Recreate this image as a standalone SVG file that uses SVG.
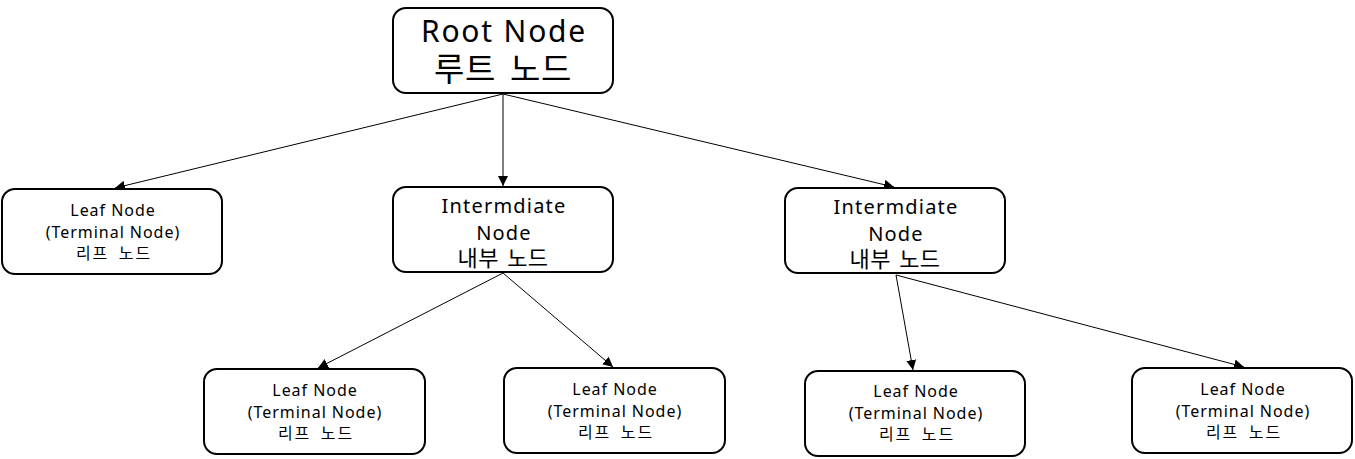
<svg xmlns="http://www.w3.org/2000/svg" width="1355" height="459" viewBox="0 0 1355 459">
<style>
.box{fill:#fff;stroke:#000;stroke-width:2}
.t{font-family:"Noto Sans","Noto Sans CJK KR",sans-serif;fill:#000;text-anchor:middle;letter-spacing:0.06em}
.k{font-family:"Noto Sans CJK KR",sans-serif;word-spacing:3px;letter-spacing:0.02em}
.s{font-size:16px}
.ks{font-size:16px;letter-spacing:0.12em;word-spacing:4px}
.m{font-size:20px}
.km{font-size:22px}
.l{font-size:30px}
.kl{font-size:33px;word-spacing:6px}
.c{stroke:#000;stroke-width:1;fill:none;marker-end:url(#ah)}
</style>
<defs>
<marker id="ah" viewBox="0 0 10 10" refX="10" refY="5" markerWidth="10" markerHeight="10" markerUnits="userSpaceOnUse" orient="auto">
<path d="M0,0 L10,5 L0,10 z" fill="#000"/>
</marker>
</defs>
<g id="connectors">
<line class="c" x1="503" y1="94" x2="115" y2="188"/>
<line class="c" x1="503" y1="94" x2="503" y2="186"/>
<line class="c" x1="503" y1="94" x2="894" y2="187"/>
<line class="c" x1="503" y1="273" x2="318" y2="368"/>
<line class="c" x1="503" y1="273" x2="613" y2="367"/>
<line class="c" x1="896" y1="275" x2="913" y2="370"/>
<line class="c" x1="896" y1="275" x2="1244" y2="367"/>
</g>
<g id="root">
<rect class="box" x="393" y="8" width="220" height="85" rx="13"/>
<text class="t l" x="504" y="42">Root Node</text>
<text class="t k kl" x="503" y="81">루트 노드</text>
</g>
<g id="leaf1">
<rect class="box" x="2" y="189" width="220" height="85" rx="13"/>
<text class="t s" x="113" y="216">Leaf Node</text>
<text class="t s" x="113" y="238">(Terminal Node)</text>
<text class="t k ks" x="114" y="259">리프 노드</text>
</g>
<g id="inter1">
<rect class="box" x="393" y="187" width="220" height="85" rx="13"/>
<text class="t m" x="504" y="213">Intermdiate</text>
<text class="t m" x="504" y="240">Node</text>
<text class="t k km" x="503" y="266">내부 노드</text>
</g>
<g id="inter2">
<rect class="box" x="785" y="188" width="220" height="85" rx="13"/>
<text class="t m" x="896" y="214">Intermdiate</text>
<text class="t m" x="896" y="241">Node</text>
<text class="t k km" x="895" y="267">내부 노드</text>
</g>
<g id="leaf2">
<rect class="box" x="204" y="369" width="221" height="85" rx="13"/>
<text class="t s" x="315" y="396">Leaf Node</text>
<text class="t s" x="315" y="418">(Terminal Node)</text>
<text class="t k ks" x="316" y="439">리프 노드</text>
</g>
<g id="leaf3">
<rect class="box" x="504" y="368" width="221" height="85" rx="13"/>
<text class="t s" x="615" y="395">Leaf Node</text>
<text class="t s" x="615" y="417">(Terminal Node)</text>
<text class="t k ks" x="616" y="438">리프 노드</text>
</g>
<g id="leaf4">
<rect class="box" x="805" y="371" width="220" height="85" rx="13"/>
<text class="t s" x="916" y="397">Leaf Node</text>
<text class="t s" x="916" y="419">(Terminal Node)</text>
<text class="t k ks" x="917" y="440">리프 노드</text>
</g>
<g id="leaf5">
<rect class="box" x="1132" y="368" width="220" height="85" rx="13"/>
<text class="t s" x="1243" y="395">Leaf Node</text>
<text class="t s" x="1243" y="417">(Terminal Node)</text>
<text class="t k ks" x="1244" y="438">리프 노드</text>
</g>
</svg>
